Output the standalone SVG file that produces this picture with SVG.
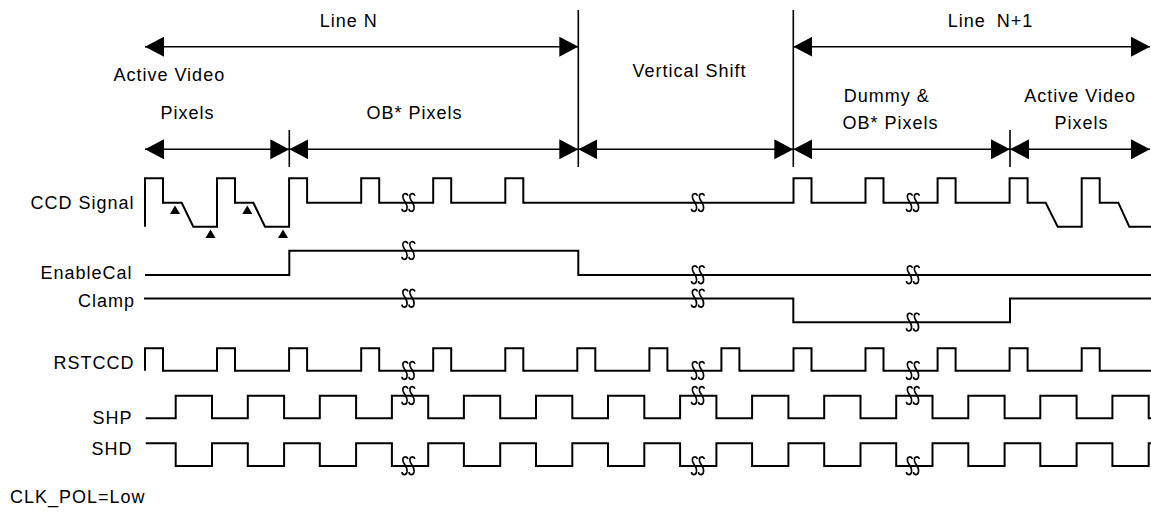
<svg xmlns="http://www.w3.org/2000/svg" xmlns:xlink="http://www.w3.org/1999/xlink" width="1151" height="513" viewBox="0 0 1151 513">
<style>
text{font-family:"Liberation Sans",Arial,sans-serif;font-size:18px;letter-spacing:1px;fill:#000}
.c{text-anchor:middle}
.e{text-anchor:end}
.w{fill:none;stroke:#000;stroke-width:2;stroke-linejoin:miter}
.a{fill:none;stroke:#000;stroke-width:1.6;marker-start:url(#ah);marker-end:url(#ah)}
.v{stroke:#000;stroke-width:1.6}
.brk{fill:none;stroke:#000;stroke-width:1.6}
.tri{fill:#000}
</style>
<defs>
<marker id="ah" viewBox="0 0 19 20" refX="19" refY="10" markerWidth="19" markerHeight="20" markerUnits="userSpaceOnUse" orient="auto-start-reverse">
<path d="M0,0 L19,10 L0,20 z" fill="#000"/>
</marker>
<g id="bm" class="brk">
<path d="M-1,-7 C-2,-10 -7,-10 -6,-5 C-5,-1 -1,1 -2,6 C-3,10 -7,9 -7,6"/>
<path d="M6,-7 C5,-10 0,-10 1,-5 C2,-1 6,1 5,6 C4,10 0,9 0,6"/>
</g>
<path id="tr" d="M0,0 L5,8.5 L-5,8.5 z"/>
</defs>

<g id="connectors">
<line class="v" x1="578.3" y1="10" x2="578.3" y2="167"/>
<line class="v" x1="793.3" y1="10" x2="793.3" y2="167"/>
<line class="v" x1="289.3" y1="130" x2="289.3" y2="167"/>
<line class="v" x1="1010" y1="130" x2="1010" y2="167"/>
<line class="a" x1="145" y1="46.7" x2="578.3" y2="46.7"/>
<line class="a" x1="793.3" y1="46.7" x2="1150" y2="46.7"/>
<line class="a" x1="145" y1="149.3" x2="289.3" y2="149.3"/>
<line class="a" x1="289.3" y1="149.3" x2="578.3" y2="149.3"/>
<line class="a" x1="578.3" y1="149.3" x2="793.3" y2="149.3"/>
<line class="a" x1="793.3" y1="149.3" x2="1010" y2="149.3"/>
<line class="a" x1="1010" y1="149.3" x2="1150" y2="149.3"/>
</g>

<g id="labels">
<text class="c" x="348.8" y="27">Line N</text>
<text class="c" x="169.3" y="81">Active Video</text>
<text class="c" x="187.5" y="118.5">Pixels</text>
<text class="c" x="414.5" y="118.5">OB* Pixels</text>
<text class="c" x="689.5" y="77">Vertical Shift</text>
<text class="c" x="990.5" y="27" style="word-spacing:5px">Line N+1</text>
<text class="c" x="886.8" y="102">Dummy &amp;</text>
<text class="c" x="890.5" y="128.5">OB* Pixels</text>
<text class="c" x="1080.2" y="102">Active Video</text>
<text class="c" x="1081.5" y="128.5">Pixels</text>
<text x="10" y="503">CLK_POL=Low</text>
</g>

<g id="ccd-signal">
<text class="e" x="134.5" y="209">CCD Signal</text>
<path class="w" d="M145,226.7 V178.3 H163 V202.7 H181.7 L193.3,226.7 H217 V178.3 H235 V202.7 H253.3 L265,226.7 H289.1 V178.3 H307.1 V202.7 H361.2 V178.3 H379.2 V202.7 H433.2 V178.3 H451.2 V202.7 H505.3 V178.3 H523.3 V202.7 H793.5 V178.3 H811.5 V202.7 H865.5 V178.3 H883.5 V202.7 H937.6 V178.3 H955.6 V202.7 H1009.6 V178.3 H1027.6 V202.7 H1045.7 L1057.7,226.7 H1081.7 V178.3 H1099.7 V202.7 H1118.3 L1129.3,226.7 H1151"/>
<use xlink:href="#tr" class="tri" x="175" y="205.5"/>
<use xlink:href="#tr" class="tri" x="210.5" y="229.5"/>
<use xlink:href="#tr" class="tri" x="247.3" y="205.5"/>
<use xlink:href="#tr" class="tri" x="283" y="229.5"/>
<use xlink:href="#bm" x="409" y="202.7"/>
<use xlink:href="#bm" x="698.5" y="202.7"/>
<use xlink:href="#bm" x="913.5" y="202.7"/>
</g>

<g id="enablecal">
<text class="e" x="132.5" y="279">EnableCal</text>
<path class="w" d="M145,275 H289.3 V250.7 H578.3 V275 H1151"/>
<use xlink:href="#bm" x="409" y="250.7"/>
<use xlink:href="#bm" x="698.5" y="275"/>
<use xlink:href="#bm" x="913.5" y="275"/>
</g>

<g id="clamp">
<text class="e" x="135" y="307">Clamp</text>
<path class="w" d="M144,298.5 H793.3 V322.3 H1010 V298.5 H1151"/>
<use xlink:href="#bm" x="409" y="298.5"/>
<use xlink:href="#bm" x="698.5" y="298.5"/>
<use xlink:href="#bm" x="913.5" y="322.3"/>
</g>

<g id="rstccd">
<text class="e" x="134.5" y="368.5">RSTCCD</text>
<path class="w" d="M145,370.7 V348.3 H163 V370.7 H217 V348.3 H235 V370.7 H289.1 V348.3 H307.1 V370.7 H361.2 V348.3 H379.2 V370.7 H433.2 V348.3 H451.2 V370.7 H505.3 V348.3 H523.3 V370.7 H577.3 V348.3 H595.3 V370.7 H649.4 V348.3 H667.4 V370.7 H721.4 V348.3 H739.4 V370.7 H793.5 V348.3 H811.5 V370.7 H865.5 V348.3 H883.5 V370.7 H937.6 V348.3 H955.6 V370.7 H1009.6 V348.3 H1027.6 V370.7 H1081.7 V348.3 H1099.7 V370.7 H1151"/>
<use xlink:href="#bm" x="409" y="370.7"/>
<use xlink:href="#bm" x="698.5" y="370.7"/>
<use xlink:href="#bm" x="913.5" y="370.7"/>
</g>

<g id="shp">
<text class="e" x="132.5" y="423.5">SHP</text>
<path class="w" d="M145.7,418.3 H175.7 V395.7 H212 V418.3 H247.8 V395.7 H284.1 V418.3 H319.8 V395.7 H356.1 V418.3 H391.9 V395.7 H428.2 V418.3 H463.9 V395.7 H500.2 V418.3 H536 V395.7 H572.3 V418.3 H608 V395.7 H644.3 V418.3 H680.1 V395.7 H716.4 V418.3 H752.1 V395.7 H788.4 V418.3 H824.2 V395.7 H860.5 V418.3 H896.2 V395.7 H932.5 V418.3 H968.3 V395.7 H1004.6 V418.3 H1040.3 V395.7 H1076.6 V418.3 H1112.4 V395.7 H1148.7 V418.3 H1151"/>
<use xlink:href="#bm" x="409" y="395.7"/>
<use xlink:href="#bm" x="698.5" y="395.7"/>
<use xlink:href="#bm" x="913.5" y="395.7"/>
</g>

<g id="shd">
<text class="e" x="132.5" y="455">SHD</text>
<path class="w" d="M145.7,443.3 H175.7 V466 H212 V443.3 H247.8 V466 H284.1 V443.3 H319.8 V466 H356.1 V443.3 H391.9 V466 H428.2 V443.3 H463.9 V466 H500.2 V443.3 H536 V466 H572.3 V443.3 H608 V466 H644.3 V443.3 H680.1 V466 H716.4 V443.3 H752.1 V466 H788.4 V443.3 H824.2 V466 H860.5 V443.3 H896.2 V466 H932.5 V443.3 H968.3 V466 H1004.6 V443.3 H1040.3 V466 H1076.6 V443.3 H1112.4 V466 H1148.7 V443.3 H1151"/>
<use xlink:href="#bm" x="409" y="466"/>
<use xlink:href="#bm" x="698.5" y="466"/>
<use xlink:href="#bm" x="913.5" y="466"/>
</g>
</svg>
